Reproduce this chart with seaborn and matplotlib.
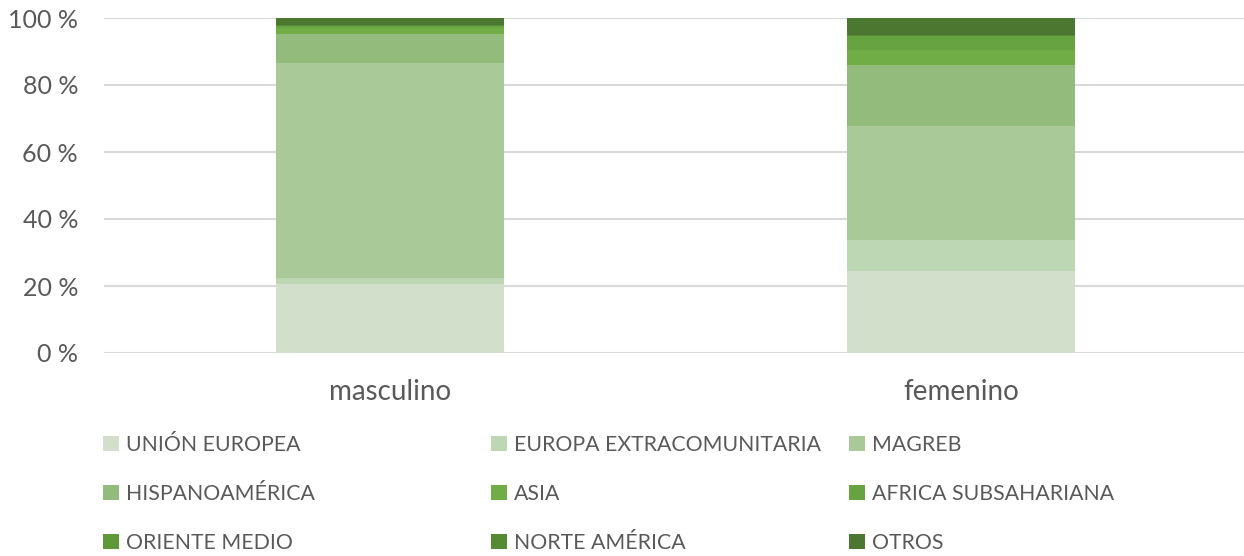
import matplotlib
matplotlib.use("Agg")
import matplotlib.pyplot as plt
from matplotlib.patches import Patch
import seaborn as sns
import numpy as np
import pandas as pd

categories = ["masculino", "femenino"]
regions = ["UNIÓN EUROPEA", "EUROPA EXTRACOMUNITARIA", "MAGREB", "HISPANOAMÉRICA",
           "ASIA", "AFRICA SUBSAHARIANA", "ORIENTE MEDIO", "NORTE AMÉRICA", "OTROS"]
masculino = [20.6, 1.8, 64.3, 8.6, 1.6, 0.7, 0.1, 0.1, 2.2]
femenino = [24.5, 9.2, 34.1, 18.3, 4.4, 4.0, 0.2, 0.1, 5.2]
colors = ["#d2e0cb", "#bdd6b3", "#a9c999", "#92bb7c", "#70ad47",
          "#68a342", "#5f9838", "#558a35", "#4b7731"]
yticks = [0, 20, 40, 60, 80, 100]

sns.set_theme(style="white")
FONT = ["Lato", "DejaVu Sans"]
plt.rcParams["font.family"] = FONT
TXT = "#595959"

fig = plt.figure(figsize=(12.44, 5.56), dpi=100)
ax = fig.add_axes([104.5 / 1244, 203 / 556, 1142 / 1244, 335 / 556])

vals = np.array([masculino, femenino])  # shape (2, 9)
cum = np.cumsum(vals, axis=1)
# draw cumulative totals from the top segment down so each visible band is one region
for i in range(len(regions) - 1, -1, -1):
    df = pd.DataFrame({"cat": categories, "val": cum[:, i]})
    sns.barplot(data=df, x="cat", y="val", order=categories, color=colors[i],
                saturation=1, width=0.4, linewidth=0, ax=ax, zorder=3)

ax.set_xlim(-0.5, 1.5)
ax.set_ylim(0, 100)
ax.set_yticks(yticks)
ax.set_yticklabels([f"{t} %" for t in yticks])
ax.set_xlabel("")
ax.set_ylabel("")
for s in ax.spines.values():
    s.set_visible(False)
ax.grid(axis="y", color="#d9d9d9", linewidth=1.5, zorder=0)
ax.grid(axis="x", visible=False)
ax.set_axisbelow(True)
ax.tick_params(axis="y", length=0, pad=19, labelsize=18, labelcolor=TXT)
ax.tick_params(axis="x", length=0, pad=19, labelsize=20, labelcolor=TXT)

handles = [Patch(facecolor=c, edgecolor="none") for c in colors]
col_x = [103, 491, 849]
LFS = 15.3
for j in range(3):
    idx = [j, j + 3, j + 6]
    fig.legend([handles[k] for k in idx], [regions[k] for k in idx],
               loc="center left", bbox_to_anchor=(col_x[j] / 1244, 1 - 494 / 556),
               frameon=False, ncol=1, fontsize=LFS, labelcolor=TXT,
               handlelength=0.75, handleheight=0.75, handletextpad=0.35,
               labelspacing=1.36, borderpad=0, borderaxespad=0)

fig.savefig("out.png", dpi=100)
